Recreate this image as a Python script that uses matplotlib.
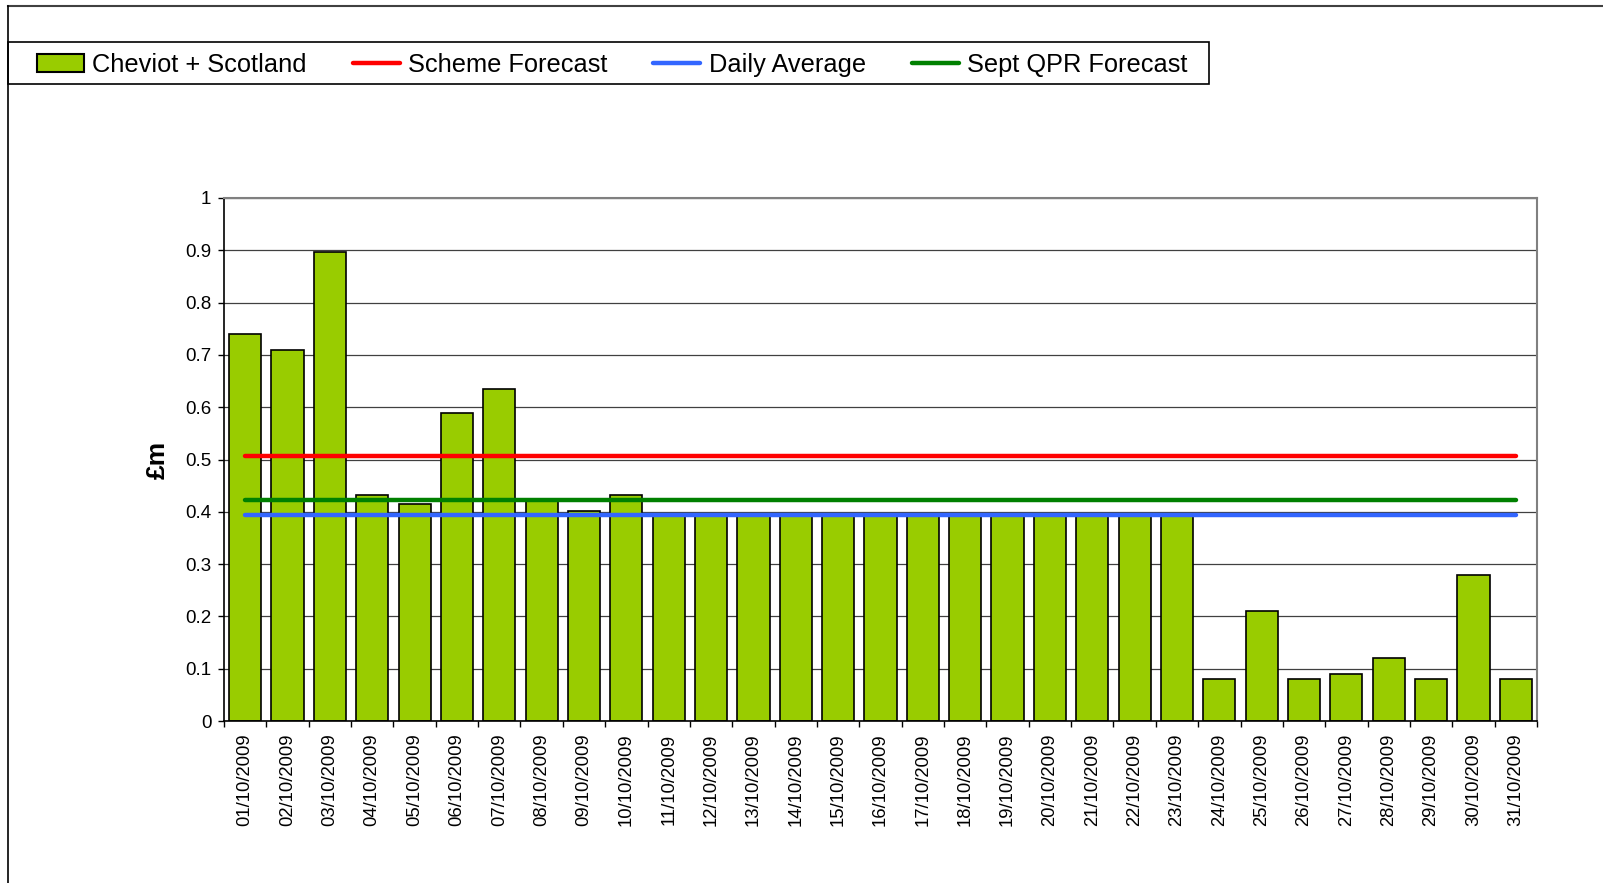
import matplotlib
matplotlib.use("Agg")
import matplotlib.pyplot as plt
from matplotlib.lines import Line2D
from matplotlib.patches import Rectangle, Patch
import numpy as np

plt.rcParams['font.family'] = ['Liberation Sans', 'DejaVu Sans']

dates = [f"{d:02d}/10/2009" for d in range(1, 32)]
cheviot_scotland = [0.74, 0.71, 0.897, 0.432, 0.415, 0.588, 0.635, 0.425, 0.402, 0.432,
                    0.393, 0.393, 0.393, 0.393, 0.393, 0.393, 0.393, 0.393, 0.393, 0.393,
                    0.393, 0.393, 0.393, 0.08, 0.21, 0.08, 0.09, 0.12, 0.08, 0.28, 0.08]
scheme_forecast = [0.507] * 31
daily_average = [0.393] * 31
sept_qpr_forecast = [0.422] * 31
yticks = [0, 0.1, 0.2, 0.3, 0.4, 0.5, 0.6, 0.7, 0.8, 0.9, 1]
ytick_labels = ["0", "0.1", "0.2", "0.3", "0.4", "0.5", "0.6", "0.7", "0.8", "0.9", "1"]

W, H = 1603, 883
fig = plt.figure(figsize=(W / 100, H / 100), dpi=100)
fig.patch.set_facecolor('white')

left, right, top, bottom = 224, 1537, 198, 721
ax = fig.add_axes([left / W, 1 - bottom / H, (right - left) / W, (bottom - top) / H])

x = np.arange(len(dates))
ax.bar(x, cheviot_scotland, width=0.76, color='#99CC00', edgecolor='black', linewidth=1.2, zorder=2)
ax.plot(x, scheme_forecast, color='#FF0000', lw=3.2, solid_capstyle='round', zorder=3)
ax.plot(x, sept_qpr_forecast, color='#008000', lw=3.2, solid_capstyle='round', zorder=3)
ax.plot(x, daily_average, color='#3366FF', lw=3.2, solid_capstyle='round', zorder=3)

ax.set_xlim(-0.5, len(dates) - 0.5)
ax.set_ylim(0, 1)
ax.set_yticks(yticks)
ax.set_yticklabels(ytick_labels, fontsize=13.5)
ax.yaxis.grid(True, color='#404040', linewidth=0.9, zorder=0)
ax.set_axisbelow(True)

ax.set_xticks(x)
ax.set_xticklabels(dates, rotation=90, fontsize=13.3)
ax.set_xticks(np.arange(-0.5, len(dates), 1), minor=True)
ax.tick_params(axis='x', which='major', length=0, pad=9)
ax.tick_params(axis='x', which='minor', length=4, width=1, direction='out', color='black')
ax.tick_params(axis='y', length=4, width=1, direction='out', pad=5, color='black')

for s in ['top', 'right']:
    ax.spines[s].set_color('#808080')
    ax.spines[s].set_linewidth(1.5)
for s in ['left', 'bottom']:
    ax.spines[s].set_color('black')
    ax.spines[s].set_linewidth(1.2)

ax.set_ylabel('£m', fontsize=19, fontweight='bold')
ax.yaxis.set_label_coords((170 - left) / (right - left), 0.5)

# chart area border (top and left)
fig.add_artist(Line2D([8 / W, 1], [1 - 6 / H, 1 - 6 / H], color='#404040', lw=1.5, transform=fig.transFigure))
fig.add_artist(Line2D([8 / W, 8 / W], [0, 1 - 6 / H], color='black', lw=1.2, transform=fig.transFigure))

# legend
handles = [Patch(facecolor='#99CC00', edgecolor='black', linewidth=1.5),
           Line2D([], [], color='#FF0000', lw=3.2, solid_capstyle='round'),
           Line2D([], [], color='#3366FF', lw=3.2, solid_capstyle='round'),
           Line2D([], [], color='#008000', lw=3.2, solid_capstyle='round')]
labels = ['Cheviot + Scotland', 'Scheme Forecast', 'Daily Average', 'Sept QPR Forecast']
fig.legend(handles, labels, loc='center left', bbox_to_anchor=(37 / W, 1 - 65 / H),
           ncol=4, frameon=False, fontsize=18.3, handlelength=1.85, handletextpad=0.33,
           columnspacing=1.8, borderpad=0, borderaxespad=0)
fig.add_artist(Rectangle((8 / W, 1 - 84 / H), (1209 - 8) / W, 42 / H, transform=fig.transFigure,
                         facecolor='none', edgecolor='black', linewidth=1.2))

fig.savefig('out.png', dpi=100)
